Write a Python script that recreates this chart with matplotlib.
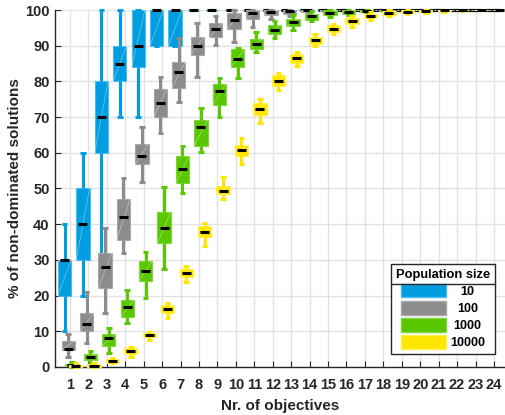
import numpy as np
import matplotlib.pyplot as plt
from matplotlib.patches import Patch
from matplotlib.lines import Line2D

plt.rcParams['font.family'] = ['Liberation Sans', 'DejaVu Sans']
plt.rcParams['font.weight'] = 'bold'

objectives = np.arange(1, 25)
populations = ['10', '100', '1000', '10000']
colors = ['#009ee0', '#8c8c8c', '#5ac800', '#ffe600']
edge_colors = ['#4cbcee', '#a8a8a8', '#7fd63a', '#fff04d']

# population 10
p10_lo = [10, 20, 25, 70, 70, 90, 90] + [100] * 17
p10_q1 = [20, 30, 60, 80, 84, 90, 90] + [100] * 17
p10_med = [30, 40, 70, 85, 90, 100, 100] + [100] * 17
p10_q3 = [30, 50, 80, 90, 100, 100, 100] + [100] * 17
p10_hi = [40, 60, 100, 100, 100, 100, 100] + [100] * 17

# population 100
p100_lo = [2.9, 6.8, 15, 32, 51.9, 65.6, 74.1, 81.1, 90.2, 91.1, 95.2, 97.5,
           98.3, 99.0, 99.5] + [100] * 9
p100_q1 = [4.8, 10, 22, 35.7, 56.8, 70, 78.2, 87.4, 92.3, 94.7, 97.4, 98.5,
           99.0, 99.5, 99.7] + [100] * 9
p100_med = [5, 12, 28, 42, 59, 74, 82.5, 90, 94.6, 97.2, 99.2, 99.5,
            99.7, 99.9, 100] + [100] * 9
p100_q3 = [7.3, 15, 32, 47, 62.6, 78, 85.5, 92.5, 96.4, 99.3, 100, 100,
           100, 100, 100] + [100] * 9
p100_hi = [9.2, 21, 39, 53, 67.3, 81.1, 92.2, 96.3, 98.4, 100, 100, 100,
           100, 100, 100] + [100] * 9

# population 1000
p1000_lo = [0, 1.0, 3.8, 12.4, 19.4, 27.4, 48.8, 60.1, 70.1, 80.9, 88.1, 92.2,
            94.4, 96.8, 98.1, 98.7, 99.2, 99.6] + [100] * 6
p1000_q1 = [0.2, 2.0, 5.9, 13.9, 24.1, 34.6, 51.4, 62, 73.4, 84.1, 89, 93.4,
            95.5, 97.2, 98.6, 99.0, 99.5, 99.8] + [100] * 6
p1000_med = [0.5, 2.7, 8.0, 16.9, 27, 38.8, 55.5, 67.1, 77.3, 86.2, 90.6, 94.4,
             96.5, 98.3, 99.2, 99.5, 99.8, 99.9] + [100] * 6
p1000_q3 = [0.9, 3.6, 9.2, 18.8, 29.7, 43.5, 59.2, 69.2, 79.3, 89, 91.9, 95.9,
            97.5, 99.0, 100, 100, 100, 100] + [100] * 6
p1000_hi = [1.4, 4.6, 10.8, 21.6, 32.1, 50.3, 62, 72.5, 80.9, 89.3, 93.9, 96.8,
            98.5, 99.8, 100, 100, 100, 100] + [100] * 6

# population 10000
p10000_lo = [0, 0, 1.0, 2.7, 7.6, 13.6, 23.9, 34, 47, 57, 68.3, 77.6,
             84.3, 89.9, 93.3, 95.3, 97.2, 98.3, 98.8, 99.3, 99.5, 99.7, 99.9, 100]
p10000_q1 = [0, 0.1, 1.1, 3.6, 8.3, 15, 25.1, 36.3, 48.5, 59.1, 70.6, 78.7,
             85.2, 90.6, 93.7, 96.1, 97.7, 98.7, 99.1, 99.5, 99.7, 99.9, 100, 100]
p10000_med = [0.2, 0.4, 1.6, 4.5, 8.9, 16.2, 26.2, 37.9, 49.4, 60.9, 72.2, 80.2,
              86.5, 91.6, 94.6, 96.9, 98.4, 99.2, 99.5, 99.8, 99.9, 100, 100, 100]
p10000_q3 = [0.5, 0.8, 2.2, 5.2, 9.4, 17.4, 27.4, 39.5, 50.8, 62.2, 73.9, 81.7,
             87.7, 92.5, 95.8, 97.7, 99.0, 99.8, 100, 100, 100, 100, 100, 100]
p10000_hi = [1.0, 1.1, 2.4, 5.7, 9.8, 18, 28.3, 40.4, 53.1, 64.2, 75, 82.4,
             88.3, 93.2, 96.1, 98.2, 99.5, 100, 100, 100, 100, 100, 100, 100]

series = [
    (p10_lo, p10_q1, p10_med, p10_q3, p10_hi),
    (p100_lo, p100_q1, p100_med, p100_q3, p100_hi),
    (p1000_lo, p1000_q1, p1000_med, p1000_q3, p1000_hi),
    (p10000_lo, p10000_q1, p10000_med, p10000_q3, p10000_hi),
]

fig = plt.figure(figsize=(5.05, 4.15), dpi=100)
ax = fig.add_axes([0.1095, 0.1157, 0.8905, 0.8602])

offsets = [-0.3, -0.1, 0.1, 0.3]
width = 0.72

for i, (lo, q1, med, q3, hi) in enumerate(series):
    stats = [dict(whislo=a, q1=b, med=c, q3=d, whishi=e)
             for a, b, c, d, e in zip(lo, q1, med, q3, hi)]
    pos = objectives + offsets[i]
    parts = ax.bxp(stats, positions=pos, widths=width, capwidths=0.3,
                   showfliers=False, patch_artist=True, manage_ticks=False,
                   boxprops=dict(facecolor=colors[i], edgecolor=edge_colors[i], linewidth=0.8),
                   whiskerprops=dict(color=colors[i], linewidth=2.2, solid_capstyle='butt'),
                   capprops=dict(color=colors[i], linewidth=2.2, solid_capstyle='butt'),
                   medianprops=dict(visible=False), zorder=3 + i)
    for key in parts:
        for art in parts[key]:
            art.set_clip_on(False)
    # faint diagonal seam in each box
    for p, b, d in zip(pos, q1, q3):
        ax.plot([p - width / 2, p + width / 2], [b, d], color='white',
                lw=0.5, alpha=0.45, zorder=3 + i + 0.1, clip_on=False)
    ax.hlines(med, pos - width * 0.34, pos + width * 0.34, colors='black',
              linewidth=2.2, zorder=3 + i + 0.5, clip_on=False)

ax.set_xlim(0.2, 24.6)
ax.set_ylim(0, 100)
ax.set_xticks(objectives)
ax.set_yticks(np.arange(0, 101, 10))
ax.grid(True, color='#e2e2e2', linewidth=1.0)
ax.set_axisbelow(True)
for s in ['top', 'right']:
    ax.spines[s].set_visible(False)
for s in ['left', 'bottom']:
    ax.spines[s].set_color('#262626')
    ax.spines[s].set_linewidth(1.0)
ax.tick_params(direction='in', length=4, width=0.8, colors='#262626',
               labelsize=10.5)
ax.tick_params(axis='x', pad=8)
ax.tick_params(axis='y', pad=4)
ax.set_xlabel('Nr. of objectives', fontsize=11, fontweight='bold',
              color='#262626', labelpad=5)
ax.set_ylabel('% of non-dominated solutions', fontsize=11, fontweight='bold',
              color='#262626', labelpad=2)

handles = [Patch(facecolor=c, edgecolor=e, linewidth=1.0)
           for c, e in zip(colors, edge_colors)]
leg = ax.legend(handles, populations, title='Population size',
                loc='lower right', bbox_to_anchor=(0.978, 0.036),
                borderaxespad=0, fancybox=False, framealpha=1,
                edgecolor='#262626', fontsize=9, title_fontsize=9.3,
                handlelength=3.6, handleheight=1.3, labelspacing=0.25,
                handletextpad=0.3, borderpad=0.4)
leg.get_title().set_fontweight('bold')
leg.get_frame().set_linewidth(1.0)
leg.set_zorder(20)

# center labels like the original and draw separator under the title
fig.canvas.draw()
texts = leg.get_texts()
widths = [t.get_window_extent().width for t in texts]
maxw = max(widths)
for t, w in zip(texts, widths):
    t.set_x((maxw - w) / 2)
tb = leg.get_title().get_window_extent()
fb = leg.get_frame().get_window_extent()
inv = fig.transFigure.inverted()
(x0, y0), (x1, _) = inv.transform([(fb.x0, tb.y0 - 3), (fb.x1, tb.y0 - 3)])
fig.add_artist(Line2D([x0, x1], [y0, y0], color='#262626', lw=1.0, zorder=25))

fig.savefig('out.png', dpi=100)
